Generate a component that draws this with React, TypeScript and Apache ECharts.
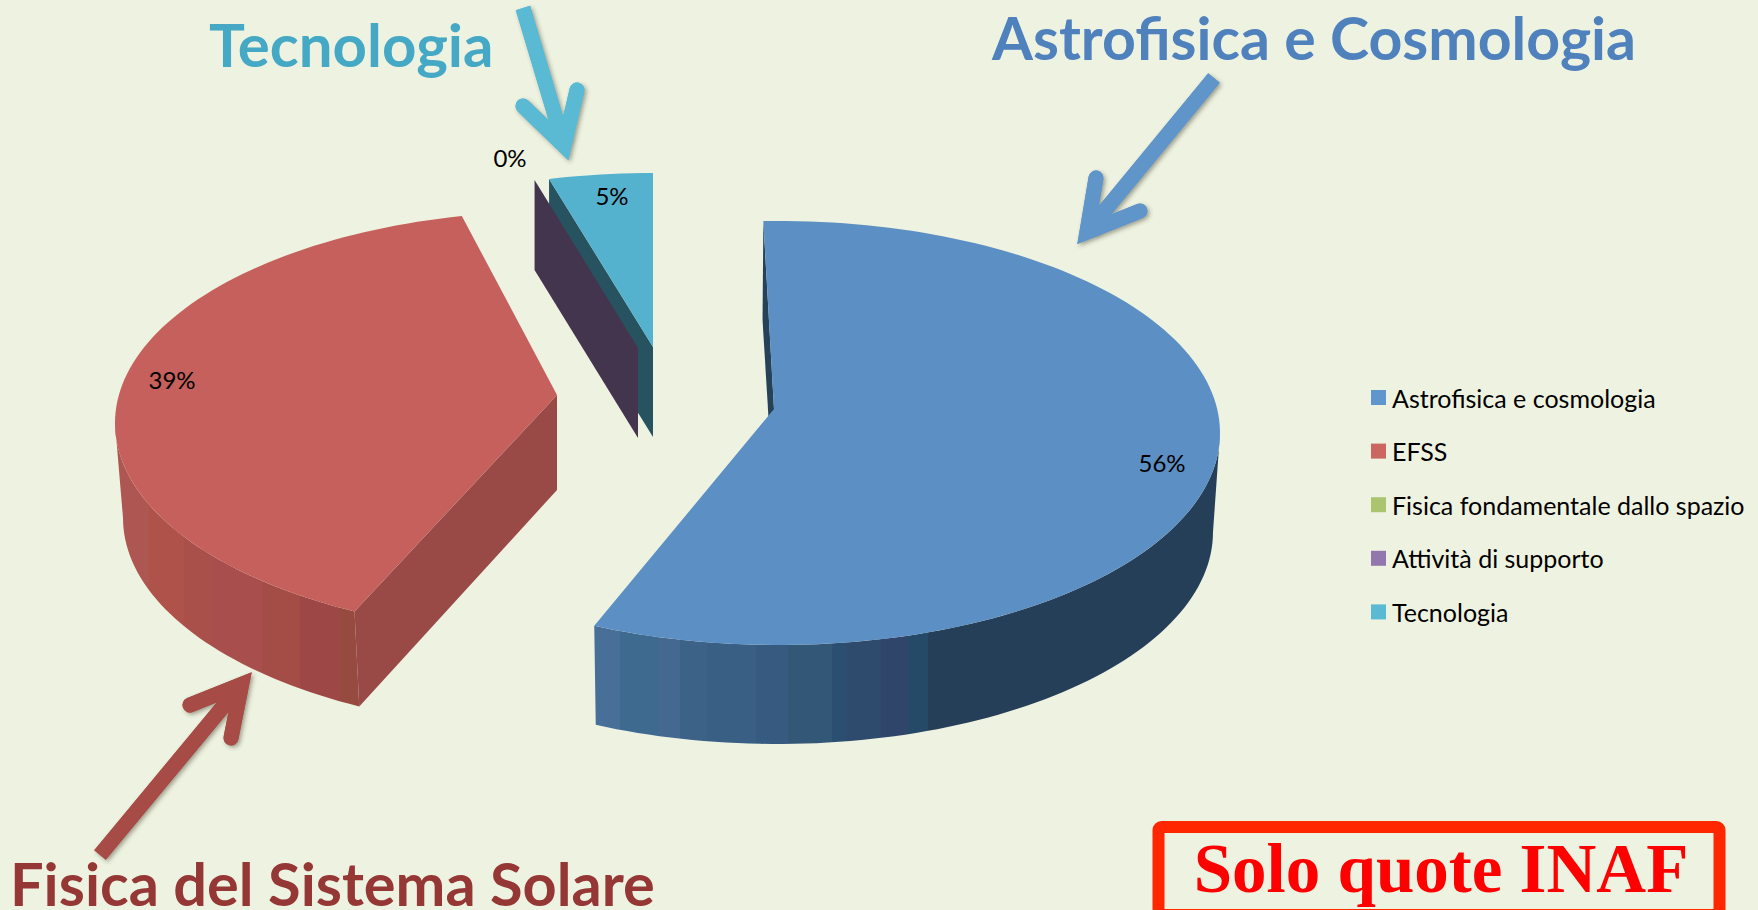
import React, { useEffect, useRef } from "react";
import * as echarts from "echarts";

// ---- data ----
const categories = ["Astrofisica e cosmologia", "EFSS", "Fisica fondamentale dallo spazio", "Attività di supporto", "Tecnologia"];
const shares = [56.49, 39, 0, 0.01, 4.5];
const legendColors = ["#5f96cb", "#cc6660", "#abc46f", "#9277ae", "#5ab9d3"];

// ---- drawing layout (one entry per slice) ----
const RX = 442;
const RY = 212;
const layouts: any[] = [
  { cx: 778, cy: 433, ax: 774, ay: 409, depth: 99, low: [-1, -6], z: 3, nudge: [-1.9, 1.2], top: "#5c8fc4", radial: "#264259", label: [1162, 462] },
  { cx: 557, cy: 423, ax: 557, ay: 395, depth: 95, low: [2, -6], z: 3, nudge: [3.9, 3.8], top: "#c5605c", radial: "#994a46", label: [172, 379] },
  null,
  { cx: 638, cy: 386, ax: 638, ay: 348, depth: 90, low: [0, 0], z: 2, nudge: [2.7, 2.7], top: "#44354f", radial: "#44354f", label: [510, 157] },
  { cx: 653, cy: 385, ax: 653, ay: 347, depth: 90, low: [0, 0], z: 1, nudge: [2.6, 0], top: "#55b2cf", radial: "#275360", label: [612, 195] },
];

const blueBands: [number, string][] = [
  [594, "#486f97"], [620, "#3f6a90"], [658, "#44688f"], [680, "#3d6288"], [707, "#395f85"], [756, "#375a80"],
  [788, "#335877"], [832, "#2b4f70"], [846, "#2e4a6c"], [881, "#2f466a"], [908, "#254a68"], [928, "#263f59"], [1220, "#263f59"],
];
const redBands: [number, string][] = [
  [116, "#ae5652"], [150, "#af5249"], [185, "#aa504a"], [212, "#a84f4d"], [262, "#a34d46"], [300, "#9d4846"], [340, "#964a40"], [359, "#964a40"],
];

const rad = (d: number) => (d * Math.PI) / 180;

function arcPoints(l: any, from: number, to: number, lower = false) {
  const pts: number[][] = [];
  const n = Math.max(2, Math.ceil(Math.abs(to - from) / 1.5));
  const cx = l.cx + (lower ? l.low[0] : 0);
  const rx = RX + (lower ? l.low[1] : 0);
  const dy = lower ? l.depth : 0;
  for (let i = 0; i <= n; i++) {
    const t = rad(from + ((to - from) * i) / n);
    pts.push([cx + rx * Math.sin(t), l.cy - RY * Math.cos(t) + dy]);
  }
  return pts;
}

function bandGradient(bands: [number, string][]) {
  const x0 = bands[0][0];
  const x1 = bands[bands.length - 1][0];
  const stops: any[] = [];
  bands.forEach((b, i) => {
    const off = (b[0] - x0) / (x1 - x0);
    stops.push({ offset: off, color: b[1] });
    if (i + 1 < bands.length) {
      stops.push({ offset: (bands[i + 1][0] - x0) / (x1 - x0) - 0.001, color: b[1] });
    }
  });
  return new echarts.graphic.LinearGradient(0, 0, 1, 0, stops);
}

function makeRender(idx: number) {
  return (_params: any, api: any) => {
    const l = layouts[idx];
    if (!l) return { type: "group", children: [] };
    const value = api.value(0);
    const before = shares.slice(0, idx).reduce((s, v) => s + v, 0);
    const a = (before * 360) / 100 + l.nudge[0];
    const b = ((before + value) * 360) / 100 + l.nudge[1];
    const children: any[] = [];
    const outerStart = arcPoints(l, a, a)[0];
    const outerStartLow = arcPoints(l, a, a, true)[0];

    // radial wall at the start edge
    children.push({
      type: "polygon",
      shape: {
        points: [outerStart, [l.ax, l.ay], [l.ax, l.ay + l.depth], outerStartLow],
      },
      style: { fill: l.radial },
    });

    // curved outer wall
    const wFrom = Math.max(a, 90);
    const wTo = Math.min(b, 270);
    if (wTo > wFrom) {
      const upper = arcPoints(l, wFrom, wTo);
      const lower = arcPoints(l, wFrom, wTo, true).reverse();
      children.push({
        type: "polygon",
        shape: { points: upper.concat(lower) },
        style: { fill: bandGradient(idx === 0 ? blueBands : redBands) },
      });
    }

    // top face
    if (b - a > 0.5) {
      children.push({
        type: "polygon",
        shape: { points: [[l.ax, l.ay] as number[]].concat(arcPoints(l, a, b)) },
        style: { fill: l.top },
      });
    }

    // percentage label
    children.push({
      type: "text",
      x: l.label[0],
      y: l.label[1],
      style: {
        text: Math.round(value) + "%",
        fill: "#000000",
        font: "24px Lato",
        align: "center",
        verticalAlign: "middle",
      },
    });
    return { type: "group", children };
  };
}

function arrow(tail: number[], tip: number[], b1: number[], b2: number[], color: string, w: number) {
  const dx = tip[0] - tail[0];
  const dy = tip[1] - tail[1];
  const len = Math.hypot(dx, dy);
  const ux = dx / len;
  const uy = dy / len;
  const v1x = b1[0] - tip[0];
  const v1y = b1[1] - tip[1];
  const v2x = b2[0] - tip[0];
  const v2y = b2[1] - tip[1];
  const cosA = (v1x * v2x + v1y * v2y) / (Math.hypot(v1x, v1y) * Math.hypot(v2x, v2y));
  const half = Math.acos(cosA) / 2;
  const back = (0.75 * w) / 2 / Math.sin(half);
  const vertex = [tip[0] - ux * back, tip[1] - uy * back];
  const shaftEnd = [tip[0] - ux * back * 1.3, tip[1] - uy * back * 1.3];
  const shaftStyle = { stroke: color, lineWidth: w, fill: "none", lineCap: "butt" };
  const headStyle = { stroke: color, lineWidth: w, fill: "none", lineCap: "round", lineJoin: "miter", miterLimit: 20 };
  const shadow = { shadowColor: "rgba(60,60,40,0.45)", shadowBlur: 4, shadowOffsetX: 2, shadowOffsetY: 2 };
  return [
    { type: "polyline", shape: { points: [tail, shaftEnd] }, style: { ...shaftStyle, ...shadow } },
    { type: "polyline", shape: { points: [b1, vertex, b2] }, style: { ...headStyle, ...shadow } },
    { type: "polyline", shape: { points: [tail, shaftEnd] }, style: shaftStyle },
    { type: "polyline", shape: { points: [b1, vertex, b2] }, style: headStyle },
  ];
}

// y is the text baseline; the renderer positions "top" text about 0.89 em above it
function heading(text: string, x: number, baseline: number, color: string, size: number, family = "Lato", align = "left") {
  return {
    type: "text",
    x,
    y: baseline - 0.89 * size,
    style: { text, fill: color, font: `bold ${size}px ${family}`, align, verticalAlign: "top" },
  };
}

export default function App() {
  const ref = useRef<HTMLDivElement>(null);
  useEffect(() => {
    document.body.style.margin = "0";
    const chart = echarts.init(ref.current!, null, { renderer: "svg" });
    chart.setOption({
      animation: false,
      backgroundColor: "#eef2e1",
      legend: {
        orient: "vertical",
        left: 1366,
        top: 380,
        icon: "rect",
        itemWidth: 15,
        itemHeight: 15,
        itemGap: 28.6,
        selectedMode: false,
        data: categories,
        textStyle: { fontFamily: "Lato", fontSize: 25, color: "#000000", padding: [0, 0, 0, 1], lineHeight: 22 },
      },
      series: categories.map((name, i) => ({
        type: "custom",
        name,
        coordinateSystem: "none",
        z: layouts[i] ? layouts[i].z : 1,
        itemStyle: { color: legendColors[i] },
        data: [[shares[i]]],
        renderItem: makeRender(i),
      })),
      graphic: {
        elements: [
          heading("Astrofisica e Cosmologia", 992, 61, "#4f81bd", 59),
          heading("Tecnologia", 209, 67, "#45a9c6", 60),
          heading("Fisica del Sistema Solare", 10, 906, "#953735", 59.5),
          ...arrow([1214, 78], [1078, 243], [1096, 178], [1140, 211], "#6095c9", 15),
          ...arrow([523, 8], [568, 159], [523, 106], [577, 90], "#5ab9d3", 15),
          ...arrow([100, 855], [251, 673], [190, 705], [231, 738], "#a64b45", 15),
          {
            type: "rect",
            shape: { x: 1158.5, y: 827, width: 561, height: 88, r: 3 },
            style: { fill: "none", stroke: "#ff2600", lineWidth: 12 },
          },
          heading("Solo quote INAF", 1441, 896, "#ff0000", 69, "'Liberation Serif'", "center"),
        ],
      },
    });
    return () => chart.dispose();
  }, []);
  return <div ref={ref} style={{ width: 1758, height: 910 }} />;
}
